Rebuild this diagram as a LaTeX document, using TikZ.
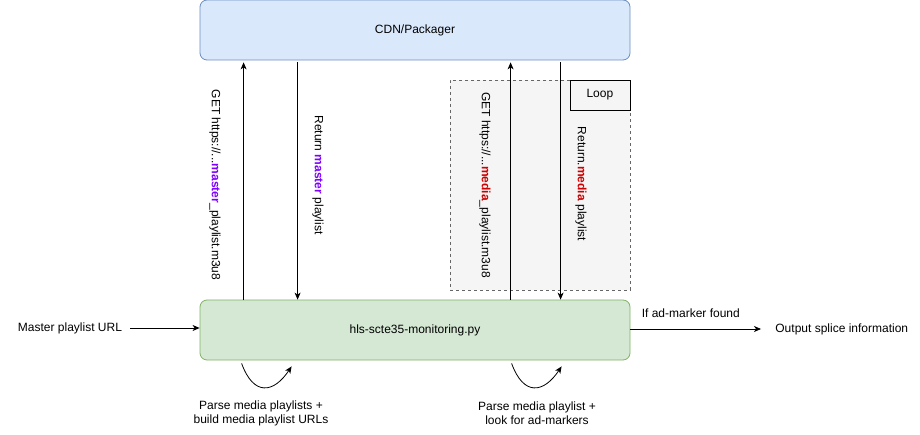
\documentclass[tikz,border=0pt]{standalone}
\usepackage{fontspec}
\setmainfont{Liberation Sans}
\usepackage{xcolor}
\usetikzlibrary{positioning, arrows.meta}
\definecolor{cdnfill}{HTML}{DAE8FC}
\definecolor{cdndraw}{HTML}{6C8EBF}
\definecolor{pyfill}{HTML}{D5E8D4}
\definecolor{pydraw}{HTML}{82B366}
\definecolor{loopfill}{HTML}{F5F5F5}
\definecolor{loopdraw}{HTML}{666666}
\definecolor{mastercol}{HTML}{7F00FF}
\definecolor{mediacol}{HTML}{CC0000}

\begin{document}
\begin{tikzpicture}[x=1pt, y=-1pt, font=\fontsize{12}{14}\selectfont,
  >={Stealth[length=7pt, width=6pt, inset=2pt]}, line width=0.8pt,
  box/.style={draw, rounded corners=7pt, minimum width=430pt, minimum height=60pt, inner sep=0pt},
  vlabel/.style={rotate=-90, inner sep=0pt},
  plain/.style={inner sep=0pt, align=center}]
  \useasboundingbox (0,0) rectangle (920,435);
  % loop region
  \node[draw=loopdraw, dashed, fill=loopfill, minimum width=180pt, minimum height=210pt,
        inner sep=0pt, line width=0.6pt] (loop) at (540,185) {};
  \node[draw, fill=loopfill, minimum width=60pt, minimum height=30pt, inner sep=0pt,
        anchor=north east] (looptag) at (loop.north east) {Loop};
  % main boxes
  \node[box, fill=cdnfill, draw=cdndraw] (pkg) at (415,30) {CDN/Packager};
  \node[box, fill=pyfill, draw=pydraw] (mon) at (415,330) {hls-scte35-monitoring.py};
  % input and output
  \node[plain] (url) at (70,328) {Master playlist URL};
  \node[plain, anchor=west] (out) at (775,329) {Output splice information};
  \draw[->] (url.east) ++(8pt,0) coordinate (urlend) (urlend) -- (mon.west |- urlend);
  \draw[->] (mon.east |- out) -- ([xshift=-14pt]out.west)
    node[plain, anchor=south west, pos=0, xshift=11pt, yshift=11pt] (found) {If ad-marker found};
  % master playlist request
  \draw[->] ([xshift=44pt]mon.north west) -- ([xshift=44pt, yshift=-2pt]pkg.south west);
  \draw[->] ([xshift=98pt, yshift=-2pt]pkg.south west) -- ([xshift=98pt]mon.north west);
  \node[vlabel] (getmaster) at (215,185)
    {GET https://...\textbf{\textcolor{mastercol}{master}}\_playlist.m3u8};
  \node[vlabel] (retmaster) at (318,175)
    {Return \textbf{\textcolor{mastercol}{master}} playlist};
  % media playlist loop
  \draw[->] ([xshift=311pt]mon.north west) -- ([xshift=311pt, yshift=-2pt]pkg.south west);
  \draw[->] ([xshift=361pt, yshift=-2pt]pkg.south west) -- ([xshift=361pt]mon.north west);
  \node[vlabel] (getmedia) at (485,185)
    {GET https://...\textbf{\textcolor{mediacol}{media}}\_playlist.m3u8};
  \node[vlabel] (retmedia) at (581,184)
    {Return.\textbf{\textcolor{mediacol}{media}} playlist};
  % self steps
  \draw[->] ([xshift=42pt, yshift=-3pt]mon.south west) .. controls +(12,33) and +(-18,27)
    .. ([xshift=92pt, yshift=-6pt]mon.south west);
  \draw[->] ([xshift=312pt, yshift=-3pt]mon.south west) .. controls +(12,33) and +(-18,27)
    .. ([xshift=362pt, yshift=-6pt]mon.south west);
  \node[plain] (parse1) at (261,413) {Parse media playlists +\\build media playlist URLs};
  \node[plain] (parse2) at (537,413) {Parse media playlist +\\look for ad-markers};
\end{tikzpicture}
\end{document}
